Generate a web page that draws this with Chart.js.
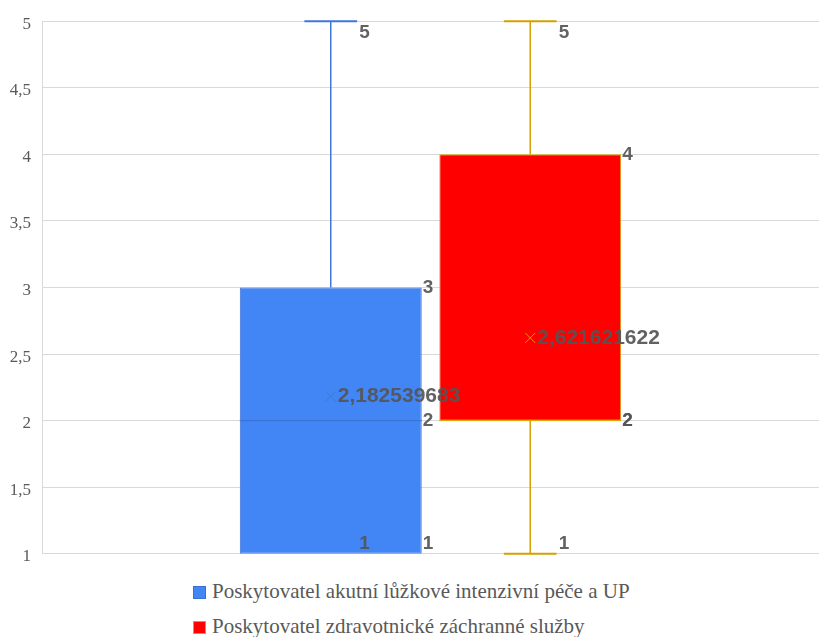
<!DOCTYPE html>
<html>
<head>
<meta charset="utf-8">
<script src="https://cdn.jsdelivr.net/npm/chart.js@4"></script>
<style>
  body { margin: 0; background: #fff; }
  #wrap { position: relative; width: 819px; height: 637px; }
  #graf { position: absolute; left: 0; top: 0; width: 819px; height: 575px; }
  #legenda { position: absolute; left: 193px; top: 578px; font-family: "Liberation Serif", "Times New Roman", "DejaVu Serif", serif; font-size: 21px; color: #595959; }
  .polozka { height: 35px; line-height: 26px; white-space: nowrap; }
  .ctverec { display: inline-block; width: 11px; height: 11px; margin-right: 6px; vertical-align: -1px; }
</style>
</head>
<body>
<div id="wrap">
  <div id="graf"><canvas id="boxplot"></canvas></div>
  <div id="legenda"></div>
</div>
<script>
const kategorie = [''];
const skupiny = ['Poskytovatel akutní lůžkové intenzivní péče a UP', 'Poskytovatel zdravotnické záchranné služby'];
const minima = [1, 1];
const kvartil1 = [1, 2];
const mediany = [2, 2];
const kvartil3 = [3, 4];
const maxima = [5, 5];
const prumery = [2.182539683, 2.621621622];
const vyplne = ['#4285f4', '#ff0000'];
const okraje = ['#3a70d2', '#d9a300'];
const fousy = ['#3c78d8', '#d4a000'];

const carka = v => String(v).replace('.', ',');

// fousy, medián, průměr a popisky přes škály grafu
const krabicePlugin = {
  id: 'krabice',
  afterDatasetsDraw(chart) {
    const ctx = chart.ctx;
    const y = chart.scales.y;
    const area = chart.chartArea;
    chart.data.datasets.forEach((ds, i) => {
      const bar = chart.getDatasetMeta(i).data[0];
      const x = bar.x;
      const pul = bar.width / 2;
      const cap = bar.width * 0.145;
      ctx.save();
      ctx.strokeStyle = fousy[i];
      // horní fous
      if (maxima[i] > kvartil3[i]) {
        ctx.lineWidth = 1.5;
        ctx.beginPath();
        ctx.moveTo(x, y.getPixelForValue(kvartil3[i]));
        ctx.lineTo(x, y.getPixelForValue(maxima[i]));
        ctx.stroke();
        ctx.lineWidth = 2;
        ctx.beginPath();
        ctx.moveTo(x - cap, y.getPixelForValue(maxima[i]));
        ctx.lineTo(x + cap, y.getPixelForValue(maxima[i]));
        ctx.stroke();
      }
      // dolní fous
      if (minima[i] < kvartil1[i]) {
        ctx.lineWidth = 1.5;
        ctx.beginPath();
        ctx.moveTo(x, y.getPixelForValue(kvartil1[i]));
        ctx.lineTo(x, y.getPixelForValue(minima[i]));
        ctx.stroke();
        ctx.lineWidth = 2;
        ctx.beginPath();
        ctx.moveTo(x - cap, y.getPixelForValue(minima[i]));
        ctx.lineTo(x + cap, y.getPixelForValue(minima[i]));
        ctx.stroke();
      }
      // medián
      ctx.strokeStyle = okraje[i];
      ctx.lineWidth = 1;
      ctx.beginPath();
      ctx.moveTo(x - pul, y.getPixelForValue(mediany[i]));
      ctx.lineTo(x + pul, y.getPixelForValue(mediany[i]));
      ctx.stroke();
      // průměr
      const ym = y.getPixelForValue(prumery[i]);
      ctx.strokeStyle = fousy[i];
      ctx.lineWidth = 1;
      ctx.beginPath();
      ctx.moveTo(x - 5, ym - 5); ctx.lineTo(x + 5, ym + 5);
      ctx.moveTo(x + 5, ym - 5); ctx.lineTo(x - 5, ym + 5);
      ctx.stroke();

      ctx.fillStyle = 'rgba(85,85,85,0.92)';
      ctx.textAlign = 'left';
      ctx.textBaseline = 'middle';
      ctx.font = 'bold 21px "Liberation Sans", Arial, sans-serif';
      ctx.fillText(carka(prumery[i]), x + 7, ym);

      ctx.font = 'bold 19px "Liberation Sans", Arial, sans-serif';
      const mez = v => Math.min(Math.max(v, area.top + 12), area.bottom - 10);
      ctx.fillText(carka(maxima[i]), x + cap + 2, mez(y.getPixelForValue(maxima[i])));
      ctx.fillText(carka(minima[i]), x + cap + 2, mez(y.getPixelForValue(minima[i])));
      ctx.fillText(carka(kvartil3[i]), x + pul + 1, mez(y.getPixelForValue(kvartil3[i])));
      ctx.fillText(carka(mediany[i]), x + pul + 1, mez(y.getPixelForValue(mediany[i])));
      ctx.fillText(carka(kvartil1[i]), x + pul + 1, mez(y.getPixelForValue(kvartil1[i])));
      ctx.restore();
    });
  }
};

new Chart(document.getElementById('boxplot'), {
  type: 'bar',
  data: {
    labels: kategorie,
    datasets: skupiny.map((nazev, i) => ({
      label: nazev,
      data: [[kvartil1[i], kvartil3[i]]],
      backgroundColor: vyplne[i],
      borderColor: okraje[i],
      borderWidth: 1,
      borderSkipped: false,
      barPercentage: 0.912,
      categoryPercentage: 0.5135
    }))
  },
  options: {
    responsive: true,
    maintainAspectRatio: false,
    animation: false,
    layout: { padding: { top: 21, bottom: 21, left: 0, right: 0 } },
    scales: {
      x: {
        grid: { display: false },
        border: { display: true, color: '#d9d9d9' },
        ticks: { display: false },
        afterFit(s) { s.height = 0; }
      },
      y: {
        min: 1,
        max: 5,
        ticks: {
          stepSize: 0.5,
          padding: 11,
          labelOffset: 3,
          color: '#595959',
          font: { family: '"Liberation Serif", "Times New Roman", "DejaVu Serif", serif', size: 17 },
          callback: v => carka(v)
        },
        grid: { color: '#d9d9d9', drawTicks: false },
        border: { color: '#d9d9d9' },
        afterFit(s) { s.width = 42; }
      }
    },
    plugins: {
      legend: { display: false },
      tooltip: { enabled: false }
    }
  },
  plugins: [krabicePlugin]
});

document.getElementById('legenda').innerHTML = skupiny.map((nazev, i) =>
  '<div class="polozka"><span class="ctverec" style="background:' + vyplne[i] +
  ';border:1px solid ' + okraje[i] + '"></span>' + nazev + '</div>').join('');
</script>
</body>
</html>
